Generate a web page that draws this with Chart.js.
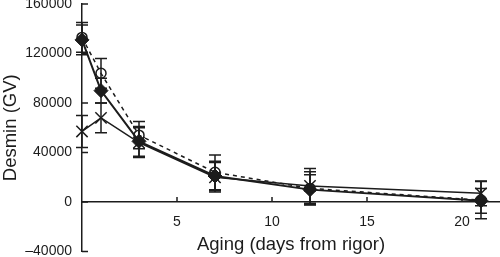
<!DOCTYPE html>
<html>
<head>
<meta charset="utf-8">
<script src="https://cdn.jsdelivr.net/npm/chart.js@4"></script>
<style>
  html, body { margin: 0; padding: 0; background: #fff; }
  #wrap { width: 500px; height: 257px; }
</style>
</head>
<body>
<div id="wrap"><canvas id="desmin" width="500" height="257"></canvas></div>
<script>
// days of aging, and desmin (GV) per treatment
var days = [0, 1, 3, 7, 12, 21];
var circleVals  = [133000, 104000, 54000, 24000, 11000, 1500];
var circleErr   = [12000, 12000, 11000, 14000, 13500, 15000];
var diamondVals = [131000, 90000, 49000, 21000, 10000, 1000];
var diamondErr  = [12000, 10000, 12000, 12000, 12000, 10000];
var crossVals   = [57000, 68000, 48000, 20000, 13000, 7000];
var crossErr    = [13000, 12000, 12000, 12000, 14000, 10000];
var xTicks = [5, 10, 15, 20];
var yTicks = [-40000, 0, 40000, 80000, 120000, 160000];

var INK = '#1c1c1c';
var errors = [circleErr, diamondErr, crossErr];

function pts(vals) {
  return days.map(function (d, i) { return { x: d, y: vals[i] }; });
}

// error bars + inward tick marks
var extras = {
  id: 'extras',
  afterDatasetsDraw: function (chart) {
    var ctx = chart.ctx, xs = chart.scales.x, ys = chart.scales.y;
    ctx.save();
    ctx.strokeStyle = INK;
    ctx.lineWidth = 1.5;
    chart.data.datasets.forEach(function (ds, i) {
      ds.data.forEach(function (p, j) {
        var px = xs.getPixelForValue(p.x);
        var e = errors[i][j];
        var t = ys.getPixelForValue(p.y + e), b = ys.getPixelForValue(p.y - e);
        ctx.beginPath();
        ctx.moveTo(px, t); ctx.lineTo(px, b);
        ctx.moveTo(px - 6, t); ctx.lineTo(px + 6, t);
        ctx.moveTo(px - 6, b); ctx.lineTo(px + 6, b);
        ctx.stroke();
      });
    });
    // ticks
    ctx.beginPath();
    var y0 = ys.getPixelForValue(0);
    ys.ticks.forEach(function (tk) {
      var py = ys.getPixelForValue(tk.value);
      ctx.moveTo(xs.left, py); ctx.lineTo(xs.left + 6, py);
    });
    xs.ticks.forEach(function (tk) {
      var px = xs.getPixelForValue(tk.value);
      ctx.moveTo(px, y0); ctx.lineTo(px, y0 - 5);
    });
    ctx.stroke();
    ctx.restore();
  }
};

Chart.defaults.font.family = '"Liberation Sans", Arial, sans-serif';
Chart.defaults.color = INK;

new Chart(document.getElementById('desmin'), {
  type: 'line',
  data: {
    datasets: [
      {
        label: 'circle', data: pts(circleVals),
        borderColor: INK, borderWidth: 1.5, borderDash: [4, 4],
        pointStyle: 'circle', pointRadius: 5, pointBorderWidth: 1.5,
        pointBorderColor: INK, pointBackgroundColor: 'rgba(0,0,0,0)',
        tension: 0, fill: false
      },
      {
        label: 'diamond', data: pts(diamondVals),
        borderColor: INK, borderWidth: 2,
        pointStyle: 'rectRot', pointRadius: 7, pointBorderWidth: 1,
        pointBorderColor: INK, pointBackgroundColor: INK,
        tension: 0, fill: false
      },
      {
        label: 'cross', data: pts(crossVals),
        borderColor: INK, borderWidth: 1.5,
        pointStyle: 'crossRot', pointRadius: 8, pointBorderWidth: 1.5,
        pointBorderColor: INK,
        tension: 0, fill: false
      }
    ]
  },
  options: {
    responsive: false, animation: false,
    layout: { autoPadding: false, padding: { top: 0, right: 0, bottom: 5.5, left: 0 } },
    plugins: { legend: { display: false }, tooltip: { enabled: false } },
    clip: false,
    scales: {
      x: {
        type: 'linear', min: 0, max: 22,
        position: { y: 0 },
        grid: { display: false, drawTicks: false },
        border: { display: true, color: INK, width: 1.5 },
        afterBuildTicks: function (s) { s.ticks = xTicks.map(function (v) { return { value: v }; }); },
        afterFit: function (s) { s.paddingLeft = 0; s.paddingRight = 0; },
        ticks: { font: { size: 14 }, padding: 12, color: INK },
        title: { display: true, text: 'Aging (days from rigor)', font: { size: 18.5 }, padding: { top: -9, bottom: 0 }, color: INK }
      },
      y: {
        min: -40000, max: 160000,
        grid: { display: false, drawTicks: false },
        border: { display: true, color: INK, width: 1.5 },
        afterBuildTicks: function (s) { s.ticks = yTicks.map(function (v) { return { value: v }; }); },
        afterFit: function (s) { s.width = 82; s.paddingTop = 4; s.paddingBottom = 0; },
        ticks: {
          font: { size: 14 }, padding: 10, color: INK,
          callback: function (v) { return v < 0 ? '\u2013' + Math.abs(v) : String(v); }
        },
        title: { display: true, text: 'Desmin (GV)', font: { size: 18.5 }, padding: 0, color: INK }
      }
    }
  },
  plugins: [extras]
});
</script>
</body>
</html>
